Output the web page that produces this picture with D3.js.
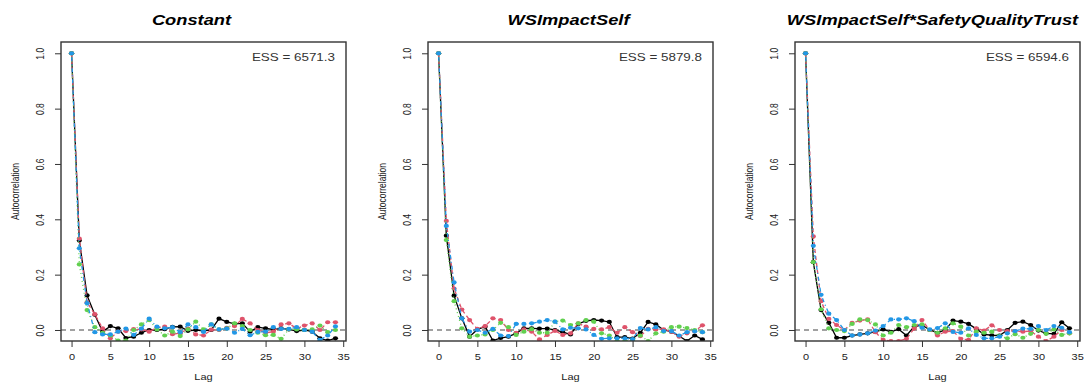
<!DOCTYPE html>
<html>
<head>
<meta charset="utf-8">
<script src="https://cdn.jsdelivr.net/npm/d3@7/dist/d3.min.js"></script>
<style>
  body { margin: 0; background: #fff; }
  svg { display: block; font-family: "Liberation Sans", Arial, sans-serif; }
</style>
</head>
<body>
<svg id="chart" width="1086" height="383"></svg>
<script>
// values
const titles = ['Constant', 'WSImpactSelf', 'WSImpactSelf*SafetyQualityTrust'];
const essValues = [6571.3, 5879.8, 6594.6];
const lags = d3.range(0, 35);
const xTicks = [0, 5, 10, 15, 20, 25, 30, 35];
const yTicks = [0, 0.2, 0.4, 0.6, 0.8, 1.0];

// Constant
const constBlack = [1, .323, .125, .055, -.006, .014, .006, -.029, -.024, -.01, 0, 0, .003, .011, .012, -.003, 0, -.003, 0, .041, .029, .022, .024, -.006, .01, .006, .002, .006, .002, -.004, 0, -.006, -.03, -.038, -.03];
const constRed = [1, .33, .10, .057, .006, -.03, -.006, -.004, .003, .002, -.006, .008, .012, -.015, -.012, .005, -.016, -.02, .001, 0, .008, .014, .04, .024, 0, -.01, -.006, .02, .024, .005, .016, .024, 0, .028, .028];
const constGreen = [1, .237, .072, .01, -.01, -.02, -.038, -.038, 0, .02, .036, .002, -.02, -.006, -.022, .002, .03, .002, .02, .002, .006, .024, .014, 0, -.01, -.019, -.018, -.032, .003, .002, 0, .002, .016, -.008, 0];
const constBlue = [1, .295, .097, -.008, -.016, -.016, -.006, .005, -.018, .005, .041, .012, .006, .01, -.008, .02, .01, -.007, .02, .002, .005, -.01, .004, -.019, -.007, -.006, .01, .004, .004, .01, 0, -.006, -.036, -.02, .013];

// WSImpactSelf
const selfBlack = [1, .341, .124, .042, -.024, .002, .012, -.038, -.029, -.024, -.012, .006, .006, .005, .005, 0, -.008, -.016, .022, .033, .036, .034, .029, -.026, -.026, -.031, -.01, .029, .02, 0, -.006, -.022, -.04, -.02, -.034];
const selfRed = [1, .394, .15, .074, .036, .004, .014, .042, .036, 0, -.01, .002, -.006, -.034, -.018, -.003, -.018, -.012, .024, .012, .004, .002, .01, -.01, .01, -.008, -.022, .004, .002, .002, -.006, -.024, -.012, -.004, .017];
const selfGreen = [1, .325, .104, .006, -.024, -.02, -.016, 0, .026, .01, -.018, -.006, .003, -.01, -.01, .03, .034, .018, .024, .036, .03, -.012, -.02, -.04, -.04, -.036, -.02, -.04, -.012, -.006, .01, .012, .007, 0, -.008];
const selfBlue = [1, .376, .172, .042, -.006, 0, -.01, .004, -.02, -.022, .022, .022, .024, .03, .036, .03, .002, .008, .006, .002, -.018, -.032, -.03, -.03, -.03, -.033, .007, .002, .01, -.004, -.004, -.02, -.008, -.005, -.008];

// WSImpactSelf*SafetyQualityTrust
const interBlack = [1, .245, .072, .026, -.028, -.028, -.02, -.016, -.012, -.007, .002, -.007, .003, -.02, .012, .018, 0, -.01, 0, .034, .03, .022, .004, -.016, -.019, -.02, 0, .026, .03, .018, -.002, -.012, -.014, .028, .006];
const interRed = [1, .338, .104, .04, .018, 0, .026, .034, .038, -.008, -.036, -.04, -.04, -.032, .005, .036, 0, -.02, -.006, -.004, -.032, -.036, .006, -.002, .017, 0, -.004, -.004, -.006, -.004, -.024, -.04, -.024, 0, -.012];
const interGreen = [1, .245, .075, .006, 0, -.004, .022, .038, .036, .02, -.02, -.01, .018, .01, .018, .02, 0, -.01, .006, .024, .012, -.02, -.006, -.01, -.006, -.022, -.03, -.015, -.028, -.014, 0, -.014, .002, -.018, -.012];
const interBlue = [1, .304, .127, .059, .036, 0, -.02, -.016, -.012, -.002, .014, .038, .038, .042, .032, .008, .002, .007, .024, -.007, -.01, .006, -.018, -.03, -.03, -.024, -.012, -.004, .005, .004, .014, 0, .014, .008, -.008];

const panelChains = [
  [constBlack, constRed, constGreen, constBlue],
  [selfBlack, selfRed, selfGreen, selfBlue],
  [interBlack, interRed, interGreen, interBlue]
];

const chainStyle = [
  { color: '#000000', dash: null },
  { color: '#DF536B', dash: '4,3' },
  { color: '#61D04F', dash: '1,3' },
  { color: '#2297E6', dash: '1,3,4,3' }
];

// layout
const boxLefts = [61, 428, 795];
const titleShift = [-12, -2, -5];
const boxTop = 42, boxW = 285, boxH = 299;
const stretch = 1.22; // the reference is a bit wider than tall

const svg = d3.select('#chart');
svg.append('rect').attr('width', 1086).attr('height', 383).attr('fill', '#fff');

panelChains.forEach((chains, p) => {
  const left = boxLefts[p];
  const g = svg.append('g').attr('transform', `translate(${left},${boxTop})`);

  const x = d3.scaleLinear().domain([-1.36, 35.36]).range([0, boxW]);
  const y = d3.scaleLinear().domain([-0.0398, 1.0408]).range([boxH, 0]);

  g.append('clipPath').attr('id', 'clip' + p)
    .append('rect').attr('width', boxW).attr('height', boxH);

  // x axis
  const xa = g.append('g')
    .attr('transform', `translate(0,${boxH})`)
    .call(d3.axisBottom(x).tickValues(xTicks).tickSize(6).tickPadding(6.5).tickFormat(d3.format('d')));
  xa.select('.domain').remove();
  xa.selectAll('line').attr('stroke', '#333').attr('stroke-width', 1);
  xa.selectAll('text')
    .attr('fill', '#222')
    .style('font-size', '9px')
    .attr('transform', `scale(${stretch},1)`);

  // y axis
  const ya = g.append('g')
    .call(d3.axisLeft(y).tickValues(yTicks).tickSize(6).tickFormat(d3.format('.1f')));
  ya.select('.domain').remove();
  ya.selectAll('line').attr('stroke', '#333').attr('stroke-width', 1);
  ya.selectAll('text')
    .attr('x', null).attr('dy', null)
    .attr('fill', '#222')
    .attr('text-anchor', 'middle')
    .style('font-size', '8.5px')
    .attr('transform', `translate(-16.7,0) scale(${stretch},1) rotate(-90)`);

  // reference line at zero
  g.append('line')
    .attr('x1', 0).attr('x2', boxW)
    .attr('y1', y(0)).attr('y2', y(0))
    .attr('stroke', '#444').attr('stroke-width', 1.2)
    .attr('stroke-dasharray', '5,4');

  const plot = g.append('g').attr('clip-path', `url(#clip${p})`);
  const line = d3.line().x((d, i) => x(lags[i])).y(d => y(d));

  chains.forEach((vals, c) => {
    const st = chainStyle[c];
    plot.append('path')
      .datum(vals)
      .attr('d', line)
      .attr('fill', 'none')
      .attr('stroke', st.color)
      .attr('stroke-width', 1.3)
      .attr('stroke-dasharray', st.dash);
    plot.selectAll('.pt' + c)
      .data(vals)
      .enter()
      .append('ellipse')
      .attr('class', 'pt' + c)
      .attr('cx', (d, i) => x(lags[i]))
      .attr('cy', d => y(d))
      .attr('rx', 2.6)
      .attr('ry', 2.1)
      .attr('fill', st.color);
  });

  // box
  g.append('rect')
    .attr('width', boxW).attr('height', boxH)
    .attr('fill', 'none')
    .attr('stroke', '#333').attr('stroke-width', 1.4);

  // ESS annotation
  g.append('text')
    .attr('transform', `translate(${boxW - 11},19.3) scale(${stretch},1)`)
    .attr('text-anchor', 'end')
    .attr('fill', '#333')
    .style('font-size', '11px')
    .text('ESS = ' + essValues[p].toFixed(1));

  // title
  svg.append('text')
    .attr('transform', `translate(${left + boxW / 2 + titleShift[p]},25.3) scale(${stretch},1)`)
    .attr('text-anchor', 'middle')
    .style('font-size', '15px')
    .style('font-weight', 'bold')
    .style('font-style', 'italic')
    .attr('fill', '#000')
    .text(titles[p]);

  // axis titles
  svg.append('text')
    .attr('transform', `translate(${left + boxW / 2},380) scale(${stretch},1)`)
    .attr('text-anchor', 'middle')
    .style('font-size', '9px')
    .attr('fill', '#222')
    .text('Lag');

  svg.append('text')
    .attr('transform', `translate(${left - 41.7},${boxTop + boxH / 2}) scale(${stretch},1) rotate(-90)`)
    .attr('text-anchor', 'middle')
    .style('font-size', '8.5px')
    .attr('fill', '#222')
    .text('Autocorrelation');
});
</script>
</body>
</html>
